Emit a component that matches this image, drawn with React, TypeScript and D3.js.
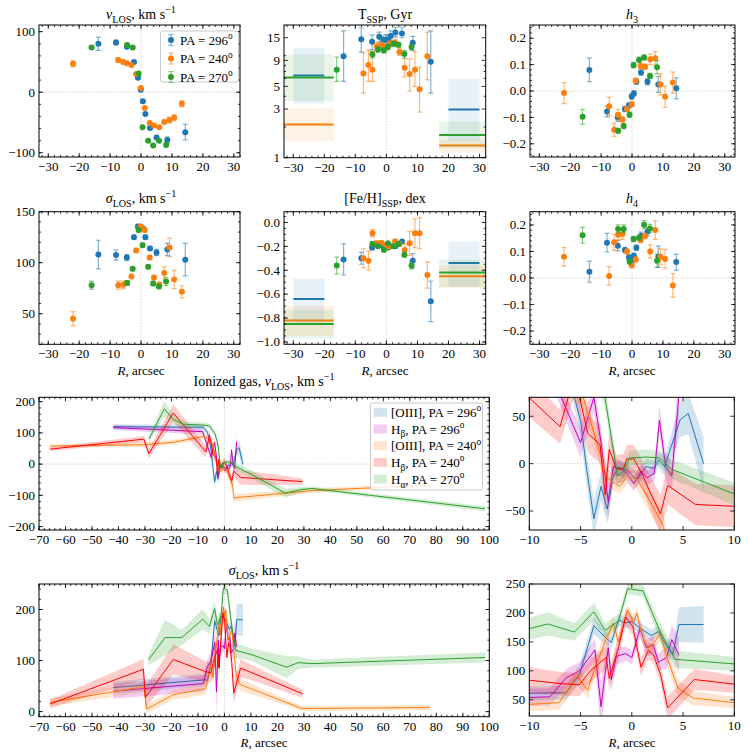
import * as d3 from 'd3';
import { useEffect, useRef } from 'react';

// ---------- stellar data, three slit position angles ----------
const starR296 = [-13.8, -8.1, -4.6, -2.3, -1.0, -0.1, 0.6, 1.4, 2.9, 5.0, 8.5, 14.3];
const starR240 = [-22, -7.4, -5.8, -4.5, -3.1, -1.6, -0.1, 1.2, 2.8, 4.2, 5.9, 7.5, 9.2, 10.7, 13.2];
const starR270 = [-16, -4.5, -2.7, -0.8, 0.5, 2.3, 3.9, 5.8, 8.1];

const v296 = [80, 82, 75, 50, 24, 4, -15, -36, -59, -75, -79, -66];
const v296e = [11, 4, 2, 2, 2, 2, 2, 2, 2, 3, 5, 13];
const v240 = [47, 53, 50, 48, 45, 30, 7, -26, -51, -55, -58, -49, -46, -42, -19];
const v240e = [5, 4, 3, 2, 2, 2, 2, 2, 2, 2, 2, 3, 5, 5, 5];
const v270 = [74, 78, 74, 31, -58, -80, -88, -80, -87];
const v270e = [3, 2, 2, 2, 2, 2, 2, 2, 3];

const sig296 = [108, 107.5, 105, 125, 135.5, 134.5, 133.5, 125, 114, 110, 113, 103];
const sig296e = [14, 5, 3, 2, 2, 2, 2, 2, 2, 3, 6, 16];
const sig240 = [45, 78, 78.3, 80, 86.5, 112, 135.5, 132, 105, 85.5, 78.6, 90, 115, 83.5, 71.4];
const sig240e = [7, 4, 4, 2, 2, 2, 2, 2, 2, 2, 2, 6, 9, 9, 6];
const sig270 = [78, 80, 94, 132, 117, 96, 79.6, 76.6, 81.6];
const sig270e = [4, 2, 2, 2, 2, 2, 2, 2, 4];

const h3_296 = [0.08, -0.078, -0.1, -0.068, -0.055, -0.021, -0.009, 0.035, 0.07, 0.035, 0.025, 0.01];
const h3_296e = [0.045, 0.02, 0.015, 0.01, 0.01, 0.01, 0.01, 0.01, 0.01, 0.012, 0.03, 0.04];
const h3_240 = [-0.008, -0.058, -0.147, -0.09, -0.108, -0.068, -0.05, 0.039, 0.095, 0.092, 0.12, 0.124, 0.025, -0.022, 0.032];
const h3_240e = [0.04, 0.035, 0.025, 0.02, 0.01, 0.01, 0.01, 0.01, 0.01, 0.01, 0.02, 0.025, 0.04, 0.04, 0.04];
const h3_270 = [-0.098, -0.151, -0.133, -0.09, 0.098, 0.118, 0.127, 0.057, 0.09];
const h3_270e = [0.028, 0.01, 0.01, 0.01, 0.01, 0.01, 0.01, 0.01, 0.025];

const h4_296 = [0.024, 0.133, 0.122, 0.106, 0.077, 0.065, 0.084, 0.114, 0.158, 0.174, 0.08, 0.06];
const h4_296e = [0.04, 0.035, 0.02, 0.01, 0.01, 0.01, 0.01, 0.01, 0.015, 0.015, 0.04, 0.03];
const h4_240 = [0.08, 0.008, 0.135, 0.163, 0.166, 0.1, 0.048, 0.07, 0.143, 0.158, 0.1, 0.181, 0.08, 0.072, -0.028];
const h4_240e = [0.035, 0.035, 0.03, 0.02, 0.02, 0.01, 0.01, 0.01, 0.01, 0.01, 0.025, 0.035, 0.03, 0.035, 0.045];
const h4_270 = [0.161, 0.185, 0.185, 0.062, 0.147, 0.152, 0.201, 0.187, 0.065];
const h4_270e = [0.03, 0.015, 0.015, 0.01, 0.01, 0.01, 0.015, 0.015, 0.025];

const t296 = [9.9, 14.5, 13.7, 15.3, 14.2, 14.3, 14.4, 15.6, 16.9, 16.5, 13.4, 8.7];
const t296lo = [5.6, 10.9, 11.5, 13.5, 12.8, 12.8, 13, 14, 15.3, 15, 11.3, 4.3];
const t296hi = [17.5, 18.8, 16, 17, 15.6, 16, 16, 17.5, 19, 19, 15.5, 17.5];
const t240 = [null, 6.7, 8.1, 7.3, 12.4, 12.7, 12.2, 13.1, 13.4, 10.9, 7.6, 6.6, 7.3, 4.7, 9.9];
const t240lo = [null, 4.3, 5.6, 5.6, 11.3, 11.8, 11.3, 12.2, 12.4, 10.0, 6.2, 4.5, 5.0, 2.8, 5.8];
const t240hi = [null, 10.7, 11.3, 11, 13.5, 13.6, 13.1, 14, 14.4, 11.8, 9.3, 9.3, 10.9, 7.7, 17];
const t270 = [7.3, 10.3, 11.5, 11.3, 12.2, 13.1, 12.8, 10.4, 12.2];
const t270lo = [5.6, 9.5, 10.8, 10.6, 11.5, 12.4, 12.1, 9.5, 11.4];
const t270hi = [9.7, 11.1, 12.2, 12, 13, 13.8, 13.5, 11.3, 13];

const fe296 = [-0.31, -0.3, -0.21, -0.19, -0.2, -0.19, -0.21, -0.2, -0.2, -0.16, -0.32, -0.66];
const fe296e = [0.13, 0.05, 0.02, 0.01, 0.01, 0.01, 0.01, 0.01, 0.01, 0.01, 0.06, 0.17];
const fe240 = [null, -0.3, -0.32, -0.09, -0.175, -0.17, -0.2, -0.2, -0.16, -0.18, -0.23, -0.175, -0.09, -0.09, -0.44];
const fe240e = [null, 0.08, 0.08, 0.03, 0.02, 0.01, 0.02, 0.02, 0.02, 0.02, 0.05, 0.1, 0.12, 0.13, 0.11];
const fe270 = [-0.36, -0.18, -0.2, -0.23, -0.175, -0.2, -0.18, -0.27, -0.36];
const fe270e = [0.07, 0.02, 0.01, 0.01, 0.01, 0.01, 0.01, 0.02, 0.03];

// outer binned SSP values (left bin, right bin)
const binFrom296 = [-30, 20];
const binTo296 = [-20, 30];
const binFromWide = [-36, 17];
const binToWide = [-17, 36];
const tBin296 = [6.4, 2.97];
const tBin296lo = [3.4, 1.46];
const tBin296hi = [12, 6.0];
const tBin240 = [2.12, 1.32];
const tBin240lo = [1.46, 1.12];
const tBin240hi = [3.1, 1.5];
const tBin270 = [6.1, 1.67];
const tBin270lo = [3.6, 1.23];
const tBin270hi = [10.3, 2.25];
const feBin296 = [-0.64, -0.34];
const feBin296lo = [-0.84, -0.54];
const feBin296hi = [-0.47, -0.16];
const feBin240 = [-0.82, -0.45];
const feBin240lo = [-0.95, -0.55];
const feBin240hi = [-0.7, -0.36];
const feBin270 = [-0.85, -0.42];
const feBin270lo = [-0.97, -0.54];
const feBin270hi = [-0.73, -0.31];

// ---------- ionized gas ----------
const oiii296VR = [-41.9, -8, -6.3, -5.6, -5, -4.4, -3.7, -3.0, -2.4, -1.8, -1.3, -0.5, 0.5, 1.4, 2.2, 2.6, 3.2, 4.7, 5.5, 7.0];
const oiii296V = [120, 118, 100, 70, 45, -6, -58, -24, -48, -13, -4, -7, -17, -3, -5, 4, -3, 46, 53, 0];
const oiii296VE = [8, 8, 10, 12, 15, 18, 20, 15, 15, 10, 8, 8, 8, 8, 8, 8, 10, 18, 22, 28];
const hb296VR = [-41.9, -8.2, -5.0, -3.7, -3.0, -2.3, -1.8, -1.2, -0.5, 0.2, 0.9, 1.5, 2.2, 2.7, 3.3, 3.9, 4.6];
const hb296V = [117, 104, 22, 70, 22, -40, -3, -5, -10, -21, -8, -15, -10, 46, -3, -13, 72];
const hb296VE = [8, 10, 15, 15, 15, 20, 10, 8, 8, 8, 8, 8, 8, 15, 15, 15, 30];
const oiii240VR = [-65.8, -30.4, -19.3, -8.2, -6.5, -4.7, -3.6, -2.4, -1.2, -0.4, 0.5, 1.6, 3.1, 3.5, 5, 15.3, 33, 77.6];
const oiii240V = [58, 62, 70, 88, 85, 69, 29, -15, -24, -13, -17, -36, -66, -109, -107, -99, -85, -67];
const oiii240VE = [5, 8, 8, 8, 10, 12, 12, 10, 8, 8, 10, 12, 15, 15, 12, 10, 8, 5];
const hb240VR = [-65.8, -30.4, -28.5, -19.3, -7.0, -5.6, -4.3, -3.1, -2.6, -2.2, -1.5, -0.8, -0.5, 0.2, 1.1, 1.9, 2.8, 3.5, 6.2, 10, 29.5];
const hb240V = [48, 80, 33, 164, 39, 93, 32, 20, -33, 15, -6, -5, 5, 5, -13, -33, -53, -23, -43, -45, -56];
const hb240VE = [6, 10, 15, 28, 18, 20, 20, 20, 20, 18, 15, 15, 15, 15, 15, 18, 20, 20, 22, 22, 10];
const ha270VR = [-28.5, -22.7, -19.3, -15.5, -8.2, -5.7, -3.6, -2.6, -1.4, -0.8, -0.2, 1.5, 2.7, 3.9, 10, 23, 29.2, 33, 98.4];
const ha270V = [80, 177, 143, 128, 125, 123, 98, 69, -13, -8, 6, 7, 6, -6, -32, -93, -81, -78, -143];
const ha270VE = [10, 25, 15, 10, 8, 8, 10, 12, 10, 8, 8, 8, 8, 10, 12, 15, 8, 6, 8];

const oiii296SR = [-41.9, -8, -6.4, -5.1, -3.7, -2.6, -2.0, -1.3, -0.7, 0, 0.95, 1.9, 2.6, 3.3, 4.0, 4.6, 7.0];
const oiii296S = [47, 62, 62, 94, 178, 158, 149, 188, 183, 185, 172, 161, 168, 146, 129, 180, 180];
const oiii296SE = [12, 12, 12, 15, 15, 12, 10, 10, 10, 10, 10, 10, 10, 10, 12, 30, 32];
const hb296SR = [-41.9, -8, -6.4, -5.1, -3.6, -3.0, -2.3, -2.0, -1.5, -0.6, 0, 0.8, 1.4, 2.1, 2.6, 3.4, 3.9, 4.6];
const hb296S = [40, 55, 88, 100, 136, 38, 140, 85, 125, 130, 123, 173, 140, 145, 115, 123, 154, 127];
const hb296SE = [15, 15, 15, 15, 20, 45, 20, 20, 15, 12, 12, 15, 15, 15, 15, 20, 25, 30];
const oiii240SR = [-65.8, -30.4, -29.4, -19.3, -7.1, -5.3, -4.3, -3.7, -2.5, -1.8, -1.3, -0.4, 0.2, 0.5, 1.0, 1.6, 2.2, 2.8, 3.3, 4.5, 6.0, 10, 29.2, 77.6];
const oiii240S = [18, 49, 5, 33, 45, 91, 66, 100, 155, 182, 150, 205, 185, 200, 160, 140, 150, 163, 130, 70, 53, 45, 6, 8];
const oiii240SE = [8, 10, 8, 10, 12, 15, 15, 15, 15, 12, 12, 8, 10, 10, 12, 12, 12, 12, 15, 15, 12, 10, 5, 5];
const hb240SR = [-65.8, -30.6, -29.8, -19.3, -7.0, -5.1, -4.0, -2.5, -2.2, -1.3, -0.6, 0.1, 0.9, 1.6, 2.1, 2.8, 3.5, 6.1, 10, 29.5];
const hb240S = [15, 83, 28, 102, 78, 76, 101, 123, 87, 140, 193, 176, 106, 135, 128, 94, 36, 85, 77, 35];
const hb240SE = [8, 20, 20, 30, 20, 20, 20, 20, 20, 20, 15, 15, 15, 15, 15, 15, 20, 18, 15, 8];
const ha270SR = [-28.7, -22.4, -16.1, -8.2, -5.6, -3.7, -2.6, -1.3, -0.4, 1.1, 2.7, 4.2, 10, 23.5, 27.9, 33, 98.4];
const ha270S = [101, 145, 145, 181, 167, 202, 170, 186, 242, 238, 170, 120, 112, 87, 96, 94, 106];
const ha270SE = [10, 35, 15, 20, 15, 15, 12, 12, 10, 10, 15, 15, 12, 22, 12, 8, 10];

const BLUE = '#1f77b4';
const ORANGE = '#ff7f0e';
const GREEN = '#2ca02c';
const MAGENTA = '#bf00bf';
const RED = '#ff0000';
const FONT = "'Liberation Serif', 'DejaVu Serif', serif";

type Part = [string, string];

function richText(g: any, x: number, y: number, parts: Part[], size: number, anchor = 'middle') {
  const t = g.append('text').attr('x', x).attr('y', y).attr('font-size', size)
    .attr('text-anchor', anchor).attr('font-family', FONT).attr('fill', '#000');
  let shift = 0;
  parts.forEach(([s, k]) => {
    const target = k === 'sub' ? size * 0.3 : k === 'sup' ? -size * 0.42 : 0;
    const ts = t.append('tspan').attr('dy', target - shift).text(s);
    shift = target;
    if (k === 'sub' || k === 'sup') ts.attr('font-size', size * 0.72);
    if (k === 'i') ts.attr('font-style', 'italic');
  });
}

function makePanel(svg: any, id: string, box: number[], xDom: number[], yDom: number[], log = false) {
  const [L, R, T, B] = box;
  const x = d3.scaleLinear().domain(xDom).range([L, R]);
  const y: any = log ? d3.scaleLog().domain(yDom).range([B, T]) : d3.scaleLinear().domain(yDom).range([B, T]);
  svg.select('defs').append('clipPath').attr('id', id)
    .append('rect').attr('x', L).attr('y', T).attr('width', R - L).attr('height', B - T);
  const g = svg.append('g');
  const plot = g.append('g').attr('clip-path', `url(#${id})`);
  return { g, plot, x, y, L, R, T, B };
}

function zeroLines(p: any, vx: boolean, hy: boolean) {
  if (vx) p.plot.append('line').attr('x1', p.x(0)).attr('x2', p.x(0)).attr('y1', p.T).attr('y2', p.B)
    .attr('stroke', '#c8c8c8').attr('stroke-width', 0.8).attr('stroke-dasharray', '1.5,1.5');
  if (hy) p.plot.append('line').attr('x1', p.L).attr('x2', p.R).attr('y1', p.y(0)).attr('y2', p.y(0))
    .attr('stroke', '#c8c8c8').attr('stroke-width', 0.8).attr('stroke-dasharray', '1.5,1.5');
}

const fmt = (d: number, digits: number) => (d < 0 ? '\u2212' : '') + Math.abs(d).toFixed(digits);

function frame(p: any, xMaj: number[], xMin: number[], yMaj: number[], yMin: number[], xDig: number, yDig: number) {
  const g = p.g;
  const tick = (x1: number, y1: number, x2: number, y2: number) =>
    g.append('line').attr('x1', x1).attr('y1', y1).attr('x2', x2).attr('y2', y2)
      .attr('stroke', '#000').attr('stroke-width', 0.8);
  xMin.forEach(v => { const px = p.x(v); tick(px, p.B, px, p.B - 2); tick(px, p.T, px, p.T + 2); });
  yMin.forEach(v => { const py = p.y(v); tick(p.L, py, p.L + 2, py); tick(p.R, py, p.R - 2, py); });
  xMaj.forEach(v => {
    const px = p.x(v);
    tick(px, p.B, px, p.B - 4); tick(px, p.T, px, p.T + 4);
    g.append('text').attr('x', px).attr('y', p.B + 14).attr('text-anchor', 'middle')
      .attr('font-family', FONT).attr('font-size', 13).text(fmt(v, xDig));
  });
  yMaj.forEach(v => {
    const py = p.y(v);
    tick(p.L, py, p.L + 4, py); tick(p.R, py, p.R - 4, py);
    g.append('text').attr('x', p.L - 4).attr('y', py).attr('dy', '0.33em').attr('text-anchor', 'end')
      .attr('font-family', FONT).attr('font-size', 13).text(fmt(v, yDig));
  });
  g.append('rect').attr('x', p.L).attr('y', p.T).attr('width', p.R - p.L).attr('height', p.B - p.T)
    .attr('fill', 'none').attr('stroke', '#000').attr('stroke-width', 1);
}

function points(p: any, R: number[], V: (number | null)[], lo: (number | null)[], hi: (number | null)[], color: string) {
  R.forEach((r, i) => {
    const v = V[i];
    if (v == null) return;
    const px = p.x(r);
    const y0 = p.y(lo[i] as number);
    const y1 = p.y(hi[i] as number);
    const eb = p.plot.append('g').attr('stroke', color).attr('stroke-opacity', 0.55).attr('stroke-width', 1.2);
    eb.append('line').attr('x1', px).attr('x2', px).attr('y1', y0).attr('y2', y1);
    eb.append('line').attr('x1', px - 2.5).attr('x2', px + 2.5).attr('y1', y0).attr('y2', y0);
    eb.append('line').attr('x1', px - 2.5).attr('x2', px + 2.5).attr('y1', y1).attr('y2', y1);
    p.plot.append('circle').attr('cx', px).attr('cy', p.y(v)).attr('r', 3).attr('fill', color);
  });
}

function sym(V: (number | null)[], E: (number | null)[], sign: number) {
  return V.map((v, i) => (v == null ? null : v + sign * (E[i] as number)));
}

function bins(p: any, from: number[], to: number[], val: number[], lo: number[], hi: number[], color: string) {
  from.forEach((f, i) => {
    p.plot.append('rect').attr('x', p.x(f)).attr('width', p.x(to[i]) - p.x(f))
      .attr('y', p.y(hi[i])).attr('height', p.y(lo[i]) - p.y(hi[i]))
      .attr('fill', color).attr('fill-opacity', 0.1);
    p.plot.append('line').attr('x1', p.x(f)).attr('x2', p.x(to[i])).attr('y1', p.y(val[i])).attr('y2', p.y(val[i]))
      .attr('stroke', color).attr('stroke-width', 2);
  });
}

function gasBand(p: any, R: number[], V: number[], E: number[], color: string) {
  const rows = R.map((r, i) => ({ r, v: V[i], e: E[i] }));
  const area = d3.area<any>().x(d => p.x(d.r)).y0(d => p.y(d.v - d.e)).y1(d => p.y(d.v + d.e));
  const line = d3.line<any>().x(d => p.x(d.r)).y(d => p.y(d.v));
  p.plot.append('path').datum(rows).attr('d', area).attr('fill', color).attr('fill-opacity', 0.2);
  p.plot.append('path').datum(rows).attr('d', line).attr('fill', 'none').attr('stroke', color).attr('stroke-width', 1);
}

const range = (a: number, b: number, s: number) => d3.range(a, b + s / 2, s).map(v => +v.toFixed(6));

export default function App() {
  const ref = useRef<SVGSVGElement | null>(null);

  useEffect(() => {
    if (!ref.current) return;
    const svg = d3.select(ref.current);
    svg.selectAll('*').remove();
    svg.append('defs');
    svg.append('rect').attr('width', 748).attr('height', 754).attr('fill', '#fff');

    const xMaj = range(-30, 30, 10);
    const xMin = range(-32, 32, 2);

    const stellar = [
      { R: starR296, c: BLUE },
      { R: starR240, c: ORANGE },
      { R: starR270, c: GREEN },
    ];

    // ---- v_LOS ----
    const p1 = makePanel(svg, 'c1', [39, 240, 25, 157], [-33, 32], [-107, 111]);
    zeroLines(p1, true, true);
    [[v296, v296e], [v240, v240e], [v270, v270e]].forEach(([V, E], k) =>
      points(p1, stellar[k].R, V, sym(V, E, -1), sym(V, E, 1), stellar[k].c));
    frame(p1, xMaj, xMin, [-100, 0, 100], range(-100, 100, 20), 0, 0);
    richText(svg, 141, 19, [['v', 'i'], ['LOS', 'sub'], [', km s', ''], ['\u22121', 'sup']], 14);
    // legend
    const lg = svg.append('g');
    lg.append('rect').attr('x', 160.5).attr('y', 31).attr('width', 78).attr('height', 51).attr('rx', 2)
      .attr('fill', '#fff').attr('fill-opacity', 0.85).attr('stroke', '#bbb').attr('stroke-width', 0.8);
    ['296', '240', '270'].forEach((pa, k) => {
      const yy = 40 + k * 18.5;
      const c = stellar[k].c;
      const eb = lg.append('g').attr('stroke', c).attr('stroke-opacity', 0.55).attr('stroke-width', 1.2);
      eb.append('line').attr('x1', 171).attr('x2', 171).attr('y1', yy - 5.5).attr('y2', yy + 5.5);
      eb.append('line').attr('x1', 168.5).attr('x2', 173.5).attr('y1', yy - 5.5).attr('y2', yy - 5.5);
      eb.append('line').attr('x1', 168.5).attr('x2', 173.5).attr('y1', yy + 5.5).attr('y2', yy + 5.5);
      lg.append('circle').attr('cx', 171).attr('cy', yy).attr('r', 3).attr('fill', c);
      richText(lg, 180, yy + 4.5, [[`PA = ${pa}`, ''], ['o', 'sup']], 13, 'start');
    });

    // ---- T_SSP ----
    const p2 = makePanel(svg, 'c2', [284, 485.7, 25, 157.7], [-33, 32], [1, 20], true);
    zeroLines(p2, true, false);
    bins(p2, binFrom296, binTo296, tBin296, tBin296lo, tBin296hi, BLUE);
    bins(p2, binFromWide, binToWide, tBin240, tBin240lo, tBin240hi, ORANGE);
    bins(p2, binFromWide, binToWide, tBin270, tBin270lo, tBin270hi, GREEN);
    points(p2, starR296, t296, t296lo, t296hi, BLUE);
    points(p2, starR240, t240, t240lo, t240hi, ORANGE);
    points(p2, starR270, t270, t270lo, t270hi, GREEN);
    frame(p2, xMaj, xMin, [], [2, 4, 6, 7, 8, 10], 0, 0);
    [1, 3, 5, 9, 15].forEach(v => {
      const py = p2.y(v);
      p2.g.append('line').attr('x1', p2.L).attr('x2', p2.L + 4).attr('y1', py).attr('y2', py).attr('stroke', '#000').attr('stroke-width', 0.8);
      p2.g.append('line').attr('x1', p2.R).attr('x2', p2.R - 4).attr('y1', py).attr('y2', py).attr('stroke', '#000').attr('stroke-width', 0.8);
      p2.g.append('text').attr('x', p2.L - 4).attr('y', py).attr('dy', '0.33em').attr('text-anchor', 'end')
        .attr('font-family', FONT).attr('font-size', 13).text(String(v));
    });
    richText(svg, 385, 19, [['T', ''], ['SSP', 'sub'], [', Gyr', '']], 14);

    // ---- h3 ----
    const p3 = makePanel(svg, 'c3', [530, 735, 25, 157], [-33, 33.3], [-0.25, 0.25]);
    zeroLines(p3, true, true);
    [[h3_296, h3_296e], [h3_240, h3_240e], [h3_270, h3_270e]].forEach(([V, E], k) =>
      points(p3, stellar[k].R, V, sym(V, E, -1), sym(V, E, 1), stellar[k].c));
    frame(p3, xMaj, range(-32, 32, 2), range(-0.2, 0.2, 0.1), range(-0.24, 0.24, 0.02), 0, 1);
    richText(svg, 632, 19, [['h', 'i'], ['3', 'sub']], 14);

    // ---- sigma ----
    const p4 = makePanel(svg, 'c4', [39, 240, 211.7, 344.3], [-33, 32], [20, 150]);
    zeroLines(p4, true, false);
    [[sig296, sig296e], [sig240, sig240e], [sig270, sig270e]].forEach(([V, E], k) =>
      points(p4, stellar[k].R, V, sym(V, E, -1), sym(V, E, 1), stellar[k].c));
    frame(p4, xMaj, xMin, [50, 100, 150], range(20, 150, 10), 0, 0);
    richText(svg, 141, 203, [['\u03c3', 'i'], ['LOS', 'sub'], [', km s', ''], ['\u22121', 'sup']], 14);
    richText(svg, 141, 375, [['R', 'i'], [', arcsec', '']], 13);

    // ---- [Fe/H] ----
    const p5 = makePanel(svg, 'c5', [284, 485.7, 211.7, 344.3], [-33, 32], [-1.02, 0.09]);
    zeroLines(p5, true, false);
    bins(p5, binFrom296, binTo296, feBin296, feBin296lo, feBin296hi, BLUE);
    bins(p5, binFromWide, binToWide, feBin240, feBin240lo, feBin240hi, ORANGE);
    bins(p5, binFromWide, binToWide, feBin270, feBin270lo, feBin270hi, GREEN);
    [[fe296, fe296e], [fe240, fe240e], [fe270, fe270e]].forEach(([V, E], k) =>
      points(p5, stellar[k].R, V, sym(V, E, -1), sym(V, E, 1), stellar[k].c));
    frame(p5, xMaj, xMin, range(-1, 0, 0.2), range(-1, 0.05, 0.05), 0, 1);
    richText(svg, 385, 203, [['[Fe/H]', ''], ['SSP', 'sub'], [', dex', '']], 14);
    richText(svg, 385, 375, [['R', 'i'], [', arcsec', '']], 13);

    // ---- h4 ----
    const p6 = makePanel(svg, 'c6', [530, 735, 211.7, 344.3], [-33, 33.3], [-0.25, 0.25]);
    zeroLines(p6, true, true);
    [[h4_296, h4_296e], [h4_240, h4_240e], [h4_270, h4_270e]].forEach(([V, E], k) =>
      points(p6, stellar[k].R, V, sym(V, E, -1), sym(V, E, 1), stellar[k].c));
    frame(p6, xMaj, range(-32, 32, 2), range(-0.2, 0.2, 0.1), range(-0.24, 0.24, 0.02), 0, 1);
    richText(svg, 632, 203, [['h', 'i'], ['4', 'sub']], 14);
    richText(svg, 632, 375, [['R', 'i'], [', arcsec', '']], 13);

    // ---- gas ----
    const gas = [
      { c: BLUE, vr: oiii296VR, v: oiii296V, ve: oiii296VE, sr: oiii296SR, s: oiii296S, se: oiii296SE,
        label: [['[OIII], PA = 296', ''], ['o', 'sup']] as Part[] },
      { c: MAGENTA, vr: hb296VR, v: hb296V, ve: hb296VE, sr: hb296SR, s: hb296S, se: hb296SE,
        label: [['H', ''], ['\u03b2', 'sub'], [', PA = 296', ''], ['o', 'sup']] as Part[] },
      { c: ORANGE, vr: oiii240VR, v: oiii240V, ve: oiii240VE, sr: oiii240SR, s: oiii240S, se: oiii240SE,
        label: [['[OIII], PA = 240', ''], ['o', 'sup']] as Part[] },
      { c: RED, vr: hb240VR, v: hb240V, ve: hb240VE, sr: hb240SR, s: hb240S, se: hb240SE,
        label: [['H', ''], ['\u03b2', 'sub'], [', PA = 240', ''], ['o', 'sup']] as Part[] },
      { c: GREEN, vr: ha270VR, v: ha270V, ve: ha270VE, sr: ha270SR, s: ha270S, se: ha270SE,
        label: [['H', ''], ['\u03b1', 'sub'], [', PA = 270', ''], ['o', 'sup']] as Part[] },
    ];

    const p7 = makePanel(svg, 'c7', [39, 489.3, 397.3, 530], [-70, 100], [-211, 214]);
    zeroLines(p7, true, true);
    gas.forEach(s => gasBand(p7, s.vr, s.v, s.ve, s.c));
    frame(p7, range(-70, 100, 10), range(-70, 100, 2), [-200, -100, 0, 100, 200], range(-200, 200, 20), 0, 0);
    richText(svg, 264, 386, [['Ionized gas, ', ''], ['v', 'i'], ['LOS', 'sub'], [', km s', ''], ['\u22121', 'sup']], 14);
    const gl = svg.append('g');
    gl.append('rect').attr('x', 370.5).attr('y', 403).attr('width', 112).attr('height', 87).attr('rx', 2)
      .attr('fill', '#fff').attr('fill-opacity', 0.85).attr('stroke', '#bbb').attr('stroke-width', 0.8);
    gas.forEach((s, k) => {
      const yy = 412.3 + k * 16.7;
      gl.append('rect').attr('x', 373.5).attr('y', yy - 4.5).attr('width', 13.5).attr('height', 9)
        .attr('fill', s.c).attr('fill-opacity', 0.2);
      richText(gl, 391, yy + 4.5, s.label, 13, 'start');
    });

    const p8 = makePanel(svg, 'c8', [529.3, 734.3, 397.3, 530], [-10, 10], [-70, 70]);
    zeroLines(p8, false, true);
    gas.forEach(s => gasBand(p8, s.vr, s.v, s.ve, s.c));
    frame(p8, range(-10, 10, 5), [], [-50, 0, 50], [], 0, 0);

    const p9 = makePanel(svg, 'c9', [39, 489.3, 584, 716.7], [-70, 100], [-10, 250]);
    zeroLines(p9, true, false);
    gas.forEach(s => gasBand(p9, s.sr, s.s, s.se, s.c));
    frame(p9, range(-70, 100, 10), range(-70, 100, 2), [0, 100, 200], range(0, 240, 20), 0, 0);
    richText(svg, 264, 575, [['\u03c3', 'i'], ['LOS', 'sub'], [', km s', ''], ['\u22121', 'sup']], 14);
    richText(svg, 264, 747, [['R', 'i'], [', arcsec', '']], 13);

    const p10 = makePanel(svg, 'c10', [529.3, 734.3, 584, 716], [-10, 10], [22, 250]);
    gas.forEach(s => gasBand(p10, s.sr, s.s, s.se, s.c));
    frame(p10, range(-10, 10, 5), [], range(50, 250, 50), [], 0, 0);
    richText(svg, 632, 747, [['R', 'i'], [', arcsec', '']], 13);
  }, []);

  return (
    <svg ref={ref} width={748} height={754} viewBox="0 0 748 754"
      style={{ position: 'absolute', left: 0, top: 0, display: 'block' }} />
  );
}
